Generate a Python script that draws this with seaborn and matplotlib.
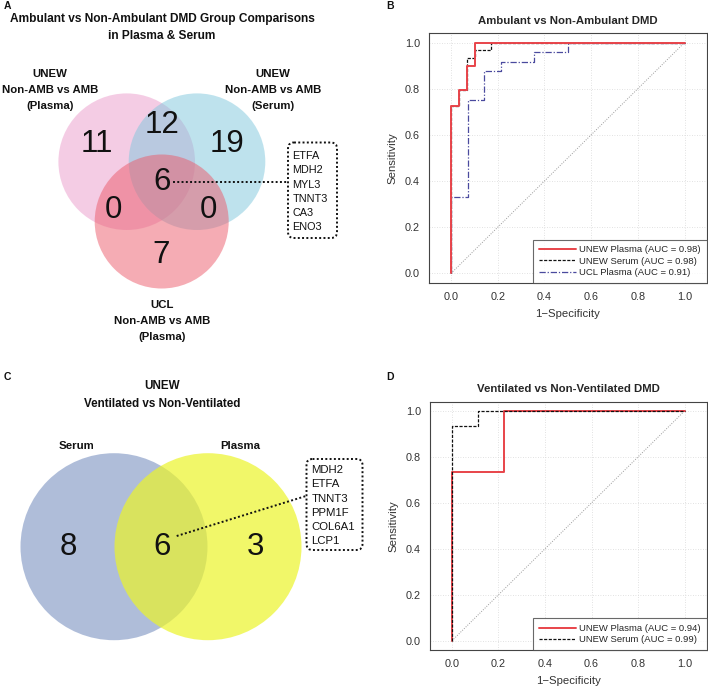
import numpy as np
import matplotlib
matplotlib.use("Agg")
import matplotlib.pyplot as plt
from matplotlib.patches import Circle, FancyBboxPatch
import seaborn as sns

# ---------------- datos ----------------
# Panel A: Venn ambulantes (regiones: solo P, solo S, solo U, P&S, P&U, S&U, P&S&U)
amb_sets = ["UNEW\nNon-AMB vs AMB\n(Plasma)", "UNEW\nNon-AMB vs AMB\n(Serum)", "UCL\nNon-AMB vs AMB\n(Plasma)"]
amb_regions = ["P", "S", "U", "PS", "PU", "SU", "PSU"]
amb_counts = [11, 19, 7, 12, 0, 0, 6]
amb_genes = ["ETFA", "MDH2", "MYL3", "TNNT3", "CA3", "ENO3"]

# Panel C: Venn ventilados (solo Serum, solo Plasma, ambos)
vent_sets = ["Serum", "Plasma"]
vent_counts = [8, 3, 6]
vent_genes = ["MDH2", "ETFA", "TNNT3", "PPM1F", "COL6A1", "LCP1"]

# Panel B: curvas ROC
b_names = ["UNEW Plasma", "UNEW Serum", "UCL Plasma"]
b_auc = [0.98, 0.98, 0.91]
b_fpr_plasma = [0, 0, 0.034, 0.034, 0.069, 0.069, 0.103, 0.103, 1.0]
b_tpr_plasma = [0, 0.724, 0.724, 0.793, 0.793, 0.897, 0.897, 1.0, 1.0]
b_fpr_serum = [0, 0, 0.034, 0.034, 0.069, 0.069, 0.103, 0.103, 0.172, 0.172, 1.0]
b_tpr_serum = [0, 0.724, 0.724, 0.793, 0.793, 0.931, 0.931, 0.966, 0.966, 1.0, 1.0]
b_fpr_ucl = [0, 0, 0.071, 0.071, 0.143, 0.143, 0.214, 0.214, 0.357, 0.357, 0.5, 0.5, 1.0]
b_tpr_ucl = [0, 0.333, 0.333, 0.75, 0.75, 0.875, 0.875, 0.917, 0.917, 0.958, 0.958, 1.0, 1.0]

# Panel D: curvas ROC
d_names = ["UNEW Plasma", "UNEW Serum"]
d_auc = [0.94, 0.99]
d_fpr_plasma = [0, 0, 0.222, 0.222, 1.0]
d_tpr_plasma = [0, 0.733, 0.733, 1.0, 1.0]
d_fpr_serum = [0, 0, 0.111, 0.111, 1.0]
d_tpr_serum = [0, 0.933, 0.933, 1.0, 1.0]

# ---------------- estilo ----------------
sns.set_style("white")
plt.rcParams['font.family'] = ['Liberation Sans', 'DejaVu Sans']

fig = plt.figure(figsize=(7.08, 6.89), dpi=100)

# Eje en coordenadas de pixel para los diagramas de Venn
canvas = fig.add_axes([0, 0, 1, 1])
canvas.set_xlim(0, 708)
canvas.set_ylim(689, 0)
canvas.axis("off")
canvas.patch.set_alpha(0)


def texto(x, y, s, size, bold=False, ha="center", va="center", ls=1.2):
    canvas.text(x, y, s, fontsize=size, fontweight="bold" if bold else "normal",
                ha=ha, va=va, color="#111111", linespacing=ls)


# ----- Panel A -----
texto(4, 6, "A", 7.5, bold=True, ha="left")
texto(162, 27.5, "Ambulant vs Non-Ambulant DMD Group Comparisons\nin Plasma & Serum", 8.6, bold=True, ls=1.6)

circ_a = [((126.7, 161.7), 68.3, "#EB9BCB", 0.5),
          ((197.0, 161.7), 68.3, "#7FC7DD", 0.5),
          ((161.7, 221.5), 67.0, "#EC5A6A", 0.5)]
for (cx, cy), r, col, al in circ_a:
    canvas.add_patch(Circle((cx, cy), r, facecolor=col, alpha=al, edgecolor="none"))

pos_a = {"P": (96.7, 143.5), "S": (226.7, 143.5), "U": (160.7, 255),
         "PS": (162.3, 125), "PU": (113.3, 210), "SU": (208.3, 210), "PSU": (161.7, 181.7)}
for reg, n in zip(amb_regions, amb_counts):
    texto(pos_a[reg][0], pos_a[reg][1], str(n), 22.5)

texto(50, 90, amb_sets[0], 8.2, bold=True, ls=1.8)
texto(273, 90, amb_sets[1], 8.2, bold=True, ls=1.8)
texto(161.7, 321, amb_sets[2], 8.2, bold=True, ls=1.8)

canvas.plot([173, 287], [181.7, 181.7], color="#111111", lw=1.4, ls=(0, (1, 1.2)))
canvas.add_patch(FancyBboxPatch((288, 142.5), 49, 95.5, boxstyle="round,pad=0,rounding_size=6",
                                facecolor="none", edgecolor="#111111", lw=1.4, ls=(0, (1, 1.2))))
for i, g in enumerate(amb_genes):
    texto(292.5, 156 + i * 14.3, g, 7.8, ha="left")

# ----- Panel C -----
texto(4, 377, "C", 7.5, bold=True, ha="left")
texto(161.7, 395, "UNEW\nVentilated vs Non-Ventilated", 8.4, bold=True, ls=1.6)
canvas.add_patch(Circle((114, 546.7), 93.5, facecolor="#8EA2CA", alpha=0.7, edgecolor="none"))
canvas.add_patch(Circle((208, 546.7), 93.5, facecolor="#ECF42A", alpha=0.7, edgecolor="none"))
texto(76.7, 446, vent_sets[0], 8.2, bold=True)
texto(240, 446, vent_sets[1], 8.2, bold=True)
for (x, y), n in zip([(68.3, 547), (255, 547), (161.7, 547)], vent_counts):
    texto(x, y, str(n), 22.5)

canvas.plot([176.7, 306], [536, 496], color="#111111", lw=1.4, ls=(0, (1, 1.2)))
canvas.add_patch(FancyBboxPatch((306.5, 459), 56, 91, boxstyle="round,pad=0,rounding_size=6",
                                facecolor="none", edgecolor="#111111", lw=1.4, ls=(0, (1, 1.2))))
for i, g in enumerate(vent_genes):
    texto(311.5, 470 + i * 14.3, g, 8.2, ha="left")


# ----- paneles ROC -----
def graficar_roc(ax, curvas, titulo):
    ax.plot([0, 1], [0, 1], color="#9a9a9a", lw=0.7, ls=(0, (1, 1.5)), zorder=1)
    for nombre, auc_val, fpr, tpr, color, ls, lw in curvas:
        sns.lineplot(x=fpr, y=tpr, ax=ax, color=color, linestyle=ls, lw=lw,
                     sort=False, estimator=None, label=f"{nombre} (AUC = {auc_val:.2f})", zorder=3)
    ax.set_xlim(-0.094, 1.094)
    ax.set_ylim(-0.04, 1.04)
    ticks = np.arange(0, 1.01, 0.2)
    ax.set_xticks(ticks)
    ax.set_yticks(ticks)
    ax.set_xticklabels([f"{t:.1f}" for t in ticks])
    ax.set_yticklabels([f"{t:.1f}" for t in ticks])
    ax.grid(True, color="#d8d8d8", lw=0.6, ls=(0, (1, 2)))
    ax.tick_params(direction="out", length=3.5, width=0.7, labelsize=7.8, colors="#333333", pad=3)
    for sp in ax.spines.values():
        sp.set_color("#444444")
        sp.set_linewidth(0.8)
    ax.set_xlabel("1\u2212Specificity", fontsize=8.2, color="#333333", labelpad=5)
    ax.set_ylabel("Sensitivity", fontsize=8.2, color="#333333", labelpad=5)
    ax.set_title(titulo, fontsize=8.2, fontweight="bold", pad=7)
    leg = ax.legend(loc="lower right", borderaxespad=0, fontsize=6.8, frameon=True, fancybox=False,
                    handlelength=4.0, handletextpad=0.3, labelspacing=0.25, borderpad=0.6)
    leg.get_frame().set_edgecolor("#444444")
    leg.get_frame().set_linewidth(0.8)


ax_b = fig.add_axes([429 / 708, 1 - 282.7 / 689, (706.5 - 429) / 708, (282.7 - 33.3) / 689])
graficar_roc(ax_b, [
    (b_names[0], b_auc[0], b_fpr_plasma, b_tpr_plasma, "#E8444A", "-", 1.4),
    (b_names[1], b_auc[1], b_fpr_serum, b_tpr_serum, "#111111", (0, (2.5, 1.2)), 0.9),
    (b_names[2], b_auc[2], b_fpr_ucl, b_tpr_ucl, "#4A4A9E", (0, (5, 1.5, 1, 1.5)), 0.9),
], "Ambulant vs Non-Ambulant DMD")
# la roja encima de las demas
ax_b.lines[1].set_zorder(4)
texto(390, 6, "B", 7.5, bold=True)

ax_d = fig.add_axes([430 / 708, 1 - 650 / 689, (706.5 - 430) / 708, (650 - 401.7) / 689])
graficar_roc(ax_d, [
    (d_names[0], d_auc[0], d_fpr_plasma, d_tpr_plasma, "#E8444A", "-", 1.4),
    (d_names[1], d_auc[1], d_fpr_serum, d_tpr_serum, "#111111", (0, (2.5, 1.2)), 0.9),
], "Ventilated vs Non-Ventilated DMD")
texto(390, 377, "D", 7.5, bold=True)

fig.savefig("out.png", dpi=100)
